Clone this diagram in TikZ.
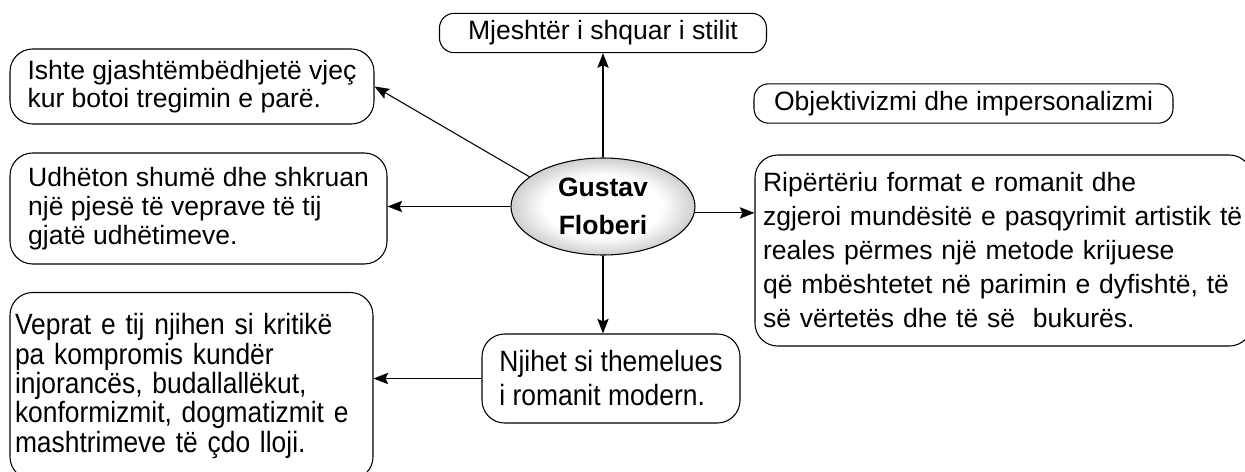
\documentclass[tikz,border=0pt]{standalone}
\usepackage{fontspec}
\setmainfont{Liberation Sans}
\newfontfamily\narrowsans[FakeStretch=0.9]{Liberation Sans}
\usetikzlibrary{shapes.geometric,arrows.meta}

\pgfdeclareradialshading{flobshade}{\pgfpoint{0bp}{0bp}}{rgb(0bp)=(1,1,1); rgb(16bp)=(1,1,1); rgb(35bp)=(0.6,0.6,0.6); rgb(50bp)=(0.6,0.6,0.6)}

\begin{document}
\begin{tikzpicture}[x=0.75pt, y=-0.75pt, font=\fontsize{19.9}{22}\selectfont]
\tikzset{bub/.style={draw, line width=0.8pt, rounded corners=17pt, align=left, inner sep=0pt},
    tag/.style={bub, rounded corners=11pt, minimum height=29.5pt},
    arr/.style={-{Stealth[length=11pt, width=8.5pt, inset=2pt]}, line width=0.8pt}}
\useasboundingbox (0,0) rectangle (1245,471);

% centre
\node[ellipse, draw, line width=0.8pt, shade, shading=flobshade, minimum width=138pt, minimum height=72.75pt,
    inner sep=0pt, align=center, font=\fontsize{19.9}{28.5}\selectfont\bfseries] (flob) at (603,206.5)
    {Gustav\\Floberi};

% short labels
\node[tag, minimum width=245.25pt] (stil) at (603,33) {Mjeshtër i shquar i stilit};
\node[tag, minimum width=314.25pt] (obj) at (963.5,103.5) {Objektivizmi dhe impersonalizmi};

% left column
\node[bub, minimum width=273pt, minimum height=56.25pt, font=\fontsize{19.9}{21}\selectfont] (ishte) at (192,86.5)
    {Ishte gjashtëmbëdhjetë vjeç\\kur botoi tregimin e parë.};
\node[bub, minimum width=282.75pt, minimum height=83.25pt] (udh) at (198.5,208.5)
    {Udhëton shumë dhe shkruan\\një pjesë të veprave të tij\\gjatë udhëtimeve.};
\node[bub, text width=264.75pt, inner xsep=3.75pt, minimum height=140.25pt,
    font=\narrowsans\fontsize{22}{22}\selectfont] (vep) at (191.5,386)
    {Veprat e tij njihen si kritikë\\pa kompromis kundër\\injorancës, budallallëkut,\\konformizmit, dogmatizmit e\\mashtrimeve të çdo lloji.};

% right and bottom
\node[bub, text width=360.75pt, inner xsep=6pt, minimum height=143.25pt, font=\fontsize{19.9}{25.5}\selectfont] (rip) at (1003.5,250.5)
    {Ripërtëriu format e romanit dhe\\zgjeroi mundësitë e pasqyrimit artistik të\\reales përmes një metode krijuese\\që mbështetet në parimin e dyfishtë, të\\së vërtetës dhe të së~ bukurës.};
\node[bub, minimum width=193.5pt, minimum height=66.75pt, font=\narrowsans\fontsize{22}{25.5}\selectfont] (njh) at (611,378.5)
    {Njihet si themelues\\i romanit modern.};

% arrows
\draw[arr] (flob.north) -- (stil.south);
\draw[arr] (flob.158) -- (ishte.east);
\draw[arr] (flob.west) -- (flob.west -| udh.east);
\draw[arr] (flob.-4) -- (flob.-4 -| rip.west);
\draw[arr] (flob.south) -- (flob.south |- njh.north);
\draw[arr] (njh.west) -- (njh.west -| vep.east);

\end{tikzpicture}
\end{document}
